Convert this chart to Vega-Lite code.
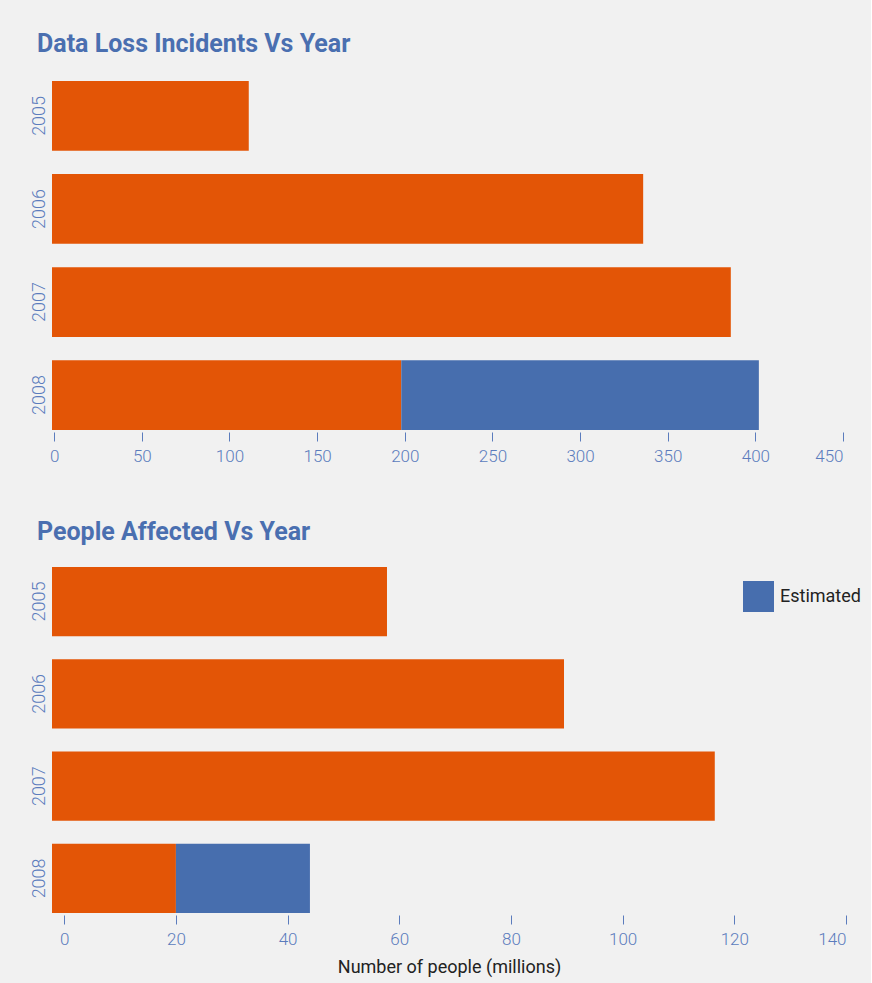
{
  "$schema": "https://vega.github.io/schema/vega-lite/v6.json",
  "background": "#f1f1f1",
  "padding": {"left": 29, "top": 32, "right": 10, "bottom": 8},
  "spacing": 56,
  "config": {
    "font": "Roboto",
    "view": {"stroke": null},
    "title": {"anchor": "start", "frame": "bounds", "font": "Roboto", "fontSize": 25, "fontWeight": "bold", "color": "#4a6fb0", "baseline": "alphabetic", "dx": 7},
    "axis": {"labelFont": "Roboto", "labelFontWeight": 300, "labelFontSize": 17, "labelColor": "#5b7cbd", "tickColor": "#5b7cbd", "domain": false, "grid": false}
  },
  "resolve": {"scale": {"color": "independent"}},
  "datasets": {
    "incidents": [
      {"year": "2005", "actual": 111},
      {"year": "2006", "actual": 336},
      {"year": "2007", "actual": 386},
      {"year": "2008", "actual": 198, "total": 402}
    ],
    "people": [
      {"year": "2005", "actual": 57.8},
      {"year": "2006", "actual": 89.5},
      {"year": "2007", "actual": 116.5},
      {"year": "2008", "actual": 20, "total": 44}
    ]
  },
  "vconcat": [
    {
      "title": {"text": "Data Loss Incidents Vs Year", "offset": 24},
      "width": 791,
      "height": 349,
      "data": {"name": "incidents"},
      "encoding": {
        "y": {"field": "year", "type": "ordinal", "title": null, "scale": {"paddingInner": 0.25, "paddingOuter": 0},
          "axis": {"ticks": false, "labelAngle": -90, "labelAlign": "center", "labelBaseline": "bottom", "labelPadding": 4, "labelFontSize": 18}}
      },
      "layer": [
        {
          "mark": {"type": "bar"},
          "encoding": {
            "x": {"field": "actual", "type": "quantitative", "title": null,
              "scale": {"domain": [-1.25, 450], "nice": false, "zero": false},
              "axis": {"values": [0, 50, 100, 150, 200, 250, 300, 350, 400, 450], "tickSize": 9, "offset": 2, "labelPadding": 7}},
            "x2": {"datum": -1.25},
            "color": {"datum": "Actual", "type": "nominal", "scale": {"domain": ["Actual", "Estimated"], "range": ["#e35506", "#476eae"]}, "legend": null}
          }
        },
        {
          "transform": [{"filter": "isValid(datum.total)"}],
          "mark": {"type": "bar"},
          "encoding": {
            "x": {"field": "total", "type": "quantitative"},
            "x2": {"field": "actual"},
            "color": {"datum": "Estimated", "type": "nominal", "legend": null}
          }
        }
      ]
    },
    {
      "title": {"text": "People Affected Vs Year", "offset": 22},
      "width": 794,
      "height": 346,
      "data": {"name": "people"},
      "encoding": {
        "y": {"field": "year", "type": "ordinal", "title": null, "scale": {"paddingInner": 0.25, "paddingOuter": 0},
          "axis": {"ticks": false, "labelAngle": -90, "labelAlign": "center", "labelBaseline": "bottom", "labelPadding": 4, "labelFontSize": 18}}
      },
      "layer": [
        {
          "mark": {"type": "bar"},
          "encoding": {
            "x": {"field": "actual", "type": "quantitative", "title": "Number of people (millions)",
              "scale": {"domain": [-2.19, 140], "nice": false, "zero": false},
              "axis": {"values": [0, 20, 40, 60, 80, 100, 120, 140], "tickSize": 9, "offset": 2, "labelPadding": 7,
                "titleFont": "Roboto", "titleFontSize": 18, "titleFontWeight": "normal", "titleColor": "#222222", "titlePadding": 11}},
            "x2": {"datum": -2.19},
            "color": {"datum": "Actual", "type": "nominal", "scale": {"domain": ["Actual", "Estimated"], "range": ["#e35506", "#476eae"]},
              "legend": {"orient": "none", "legendX": 691, "legendY": 14, "values": ["Estimated"], "title": null, "symbolType": "square", "symbolSize": 961, "symbolStrokeWidth": 0, "symbolOpacity": 1, "labelFont": "Roboto", "labelFontSize": 18, "labelColor": "#222222", "labelOffset": 6}}
          }
        },
        {
          "transform": [{"filter": "isValid(datum.total)"}],
          "mark": {"type": "bar"},
          "encoding": {
            "x": {"field": "total", "type": "quantitative"},
            "x2": {"field": "actual"},
            "color": {"datum": "Estimated", "type": "nominal"}
          }
        }
      ]
    }
  ]
}
